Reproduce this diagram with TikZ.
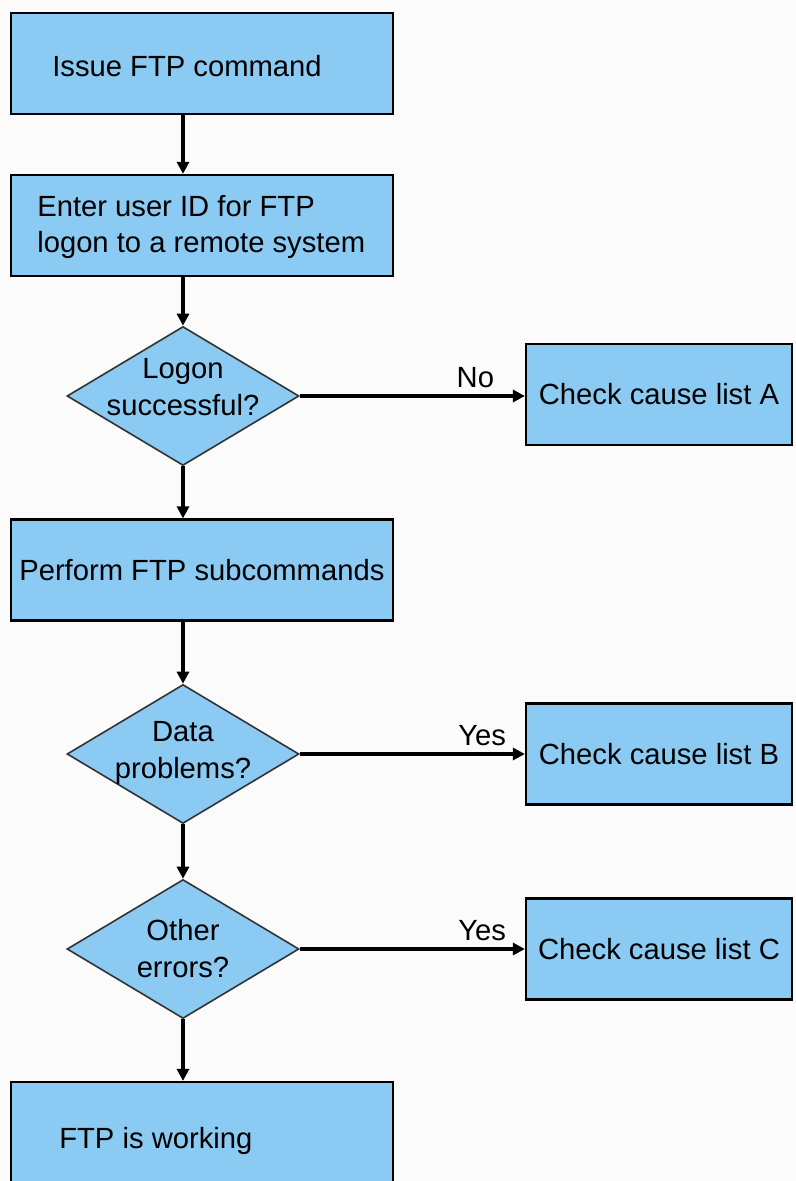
\documentclass[tikz,border=0pt]{standalone}
\usepackage{fontspec}
\setmainfont{Liberation Sans}
\usetikzlibrary{positioning, shapes.geometric, arrows.meta}

\definecolor{boxblue}{RGB}{139,202,242}
\definecolor{paper}{RGB}{251,251,251}

\tikzset{
	box/.style={draw=black, line width=1.1pt, fill=boxblue, minimum width=191pt, minimum height=50.5pt, inner sep=0pt},
	sidebox/.style={box, minimum width=133pt, font=\fontsize{14.6}{18}\selectfont},
	decision/.style={draw=black!80, line width=0.8pt, fill=boxblue, diamond, minimum width=116pt, minimum height=69.5pt, inner sep=0pt},
	txt/.style={inner sep=0pt, align=left, font=\fontsize{14.6}{18}\selectfont},
	qtxt/.style={inner sep=0pt, align=center, font=\fontsize{14.6}{18.5}\selectfont},
	arr/.style={line width=1.9pt, -{Triangle[length=6pt, width=6pt]}}
}

\begin{document}
\begin{tikzpicture}[x=0.5pt, y=-0.5pt]
		% page
		\fill[paper] (0,0) rectangle (796,1181);
		\useasboundingbox (0,0) rectangle (796,1181);
		% main column
		\node[box] (issue) at (202,63.5) {};
		\node[txt, right=21pt of issue.west, yshift=-1.5pt] (issuetxt) {Issue FTP command};
		\node[box] (enter) at (202,225.5) {};
		\node[txt, right=13.5pt of enter.west, yshift=-0.5pt] (entertxt) {Enter user ID for FTP\\logon to a remote system};
		\node[decision] (logon) at (183,396) {};
		\node[qtxt, yshift=4.5pt] (logontxt) at (logon) {Logon\\successful?};
		\node[box] (subcmd) at (202,570) {};
		\node[txt, right=4.5pt of subcmd.west] (subcmdtxt) {Perform FTP subcommands};
		\node[decision] (dataq) at (183,754) {};
		\node[qtxt, yshift=0.5pt] (dataqtxt) at (dataq) {Data\\problems?};
		\node[decision] (otherq) at (183,949) {};
		\node[qtxt] (otherqtxt) at (otherq) {Other\\errors?};
		\node[box] (working) at (202,1132.5) {};
		\node[txt, right=24.5pt of working.west, yshift=-4pt] (workingtxt) {FTP is working};
		% cause lists
		\node[sidebox] (listA) at (659,394.5) {Check cause list A};
		\node[sidebox] (listB) at (659,754) {Check cause list B};
		\node[sidebox] (listC) at (659,949) {Check cause list C};
		% down arrows
		\draw[arr] (issue.south -| logon.center) -- (enter.north -| logon.center);
		\draw[arr] (enter.south -| logon.center) -- (logon.north);
		\draw[arr] (logon.south) -- (subcmd.north -| logon.center);
		\draw[arr] (subcmd.south -| logon.center) -- (dataq.north);
		\draw[arr] (dataq.south) -- (otherq.north);
		\draw[arr] (otherq.south) -- (working.north -| otherq.center);
		% side arrows
		\draw[arr] (logon.east) -- node[pos=0.78, above, font=\fontsize{14.6}{18}\selectfont] {No} (listA.west |- logon.east);
		\draw[arr] (dataq.east) -- node[pos=0.81, above, font=\fontsize{14.6}{18}\selectfont] {Yes} (listB.west);
		\draw[arr] (otherq.east) -- node[pos=0.81, above, font=\fontsize{14.6}{18}\selectfont] {Yes} (listC.west);
	\end{tikzpicture}
\end{document}
